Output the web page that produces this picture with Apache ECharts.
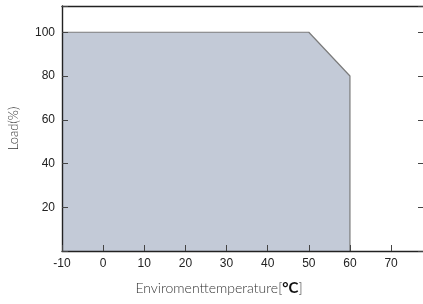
<!DOCTYPE html>
<html>
<head>
<meta charset="utf-8">
<script src="https://cdn.jsdelivr.net/npm/echarts@6/dist/echarts.min.js"></script>
<style>
html, body { margin: 0; padding: 0; background: #fff; }
#chart { width: 423px; height: 304px; }
</style>
</head>
<body>
<div id="chart"></div>
<script>
// derating curve: temperature (°C) vs load (%)
var temps = [-10, 50, 60, 60];
var loads = [100, 100, 80, 0];
var xTicks = [-10, 0, 10, 20, 30, 40, 50, 60, 70];
var yTicks = [20, 40, 60, 80, 100];

var points = [];
for (var i = 0; i < temps.length; i++) {
    points.push([temps[i], loads[i]]);
}

var chart = echarts.init(document.getElementById('chart'));
var axisDark = '#222';
var option = {
    animation: false,
    grid: { left: 62, top: 6, width: 362, height: 245, outerBoundsMode: 'none' },
    xAxis: [
        {
            type: 'value',
            z: 5,
            min: -10,
            max: 78,
            interval: 10,
            splitLine: { show: false },
            axisLine: { onZero: false, lineStyle: { color: axisDark, width: 1.4 } },
            axisTick: { inside: true, length: 6, lineStyle: { color: '#444' } },
            axisLabel: {
                color: '#222',
                fontFamily: 'Liberation Sans',
                fontSize: 12,
                margin: 7,
                showMaxLabel: false,
                formatter: function (v) { return xTicks.indexOf(v) >= 0 ? String(v) : ''; }
            },
            name: 'Enviromenttemperature[{b|°C}]',
            nameLocation: 'middle',
            nameGap: 30,
            nameTextStyle: {
                color: '#333',
                fontFamily: 'Lato',
                fontWeight: 300,
                fontSize: 14,
                padding: [0, 48, 0, 0],
                rich: { b: { fontWeight: 'bold', fontFamily: 'Lato', fontSize: 15, color: '#111' } }
            }
        },
        {
            type: 'value',
            z: 5,
            position: 'top',
            min: -10,
            max: 78,
            interval: 10,
            splitLine: { show: false },
            axisLine: { onZero: false, lineStyle: { color: axisDark, width: 1.4 } },
            axisTick: { show: false },
            axisLabel: { show: false }
        }
    ],
    yAxis: [
        {
            type: 'value',
            z: 5,
            min: 0,
            max: 112,
            interval: 20,
            splitLine: { show: false },
            axisLine: { show: true, onZero: false, lineStyle: { color: axisDark, width: 1.4 } },
            axisTick: { inside: true, length: 6, lineStyle: { color: '#444' } },
            axisLabel: {
                color: '#222',
                fontFamily: 'Liberation Sans',
                fontSize: 12,
                margin: 7,
                formatter: function (v) { return yTicks.indexOf(v) >= 0 ? String(v) : ''; }
            },
            name: 'Load(%)',
            nameLocation: 'middle',
            nameGap: 42,
            nameTextStyle: { color: '#333', fontFamily: 'Lato', fontWeight: 300, fontSize: 13 }
        },
        {
            type: 'value',
            z: 5,
            position: 'right',
            min: 0,
            max: 112,
            interval: 20,
            splitLine: { show: false },
            axisLine: { show: false, onZero: false },
            axisTick: { show: true, inside: true, length: 6, lineStyle: { color: '#444' } },
            axisLabel: { show: false }
        }
    ],
    series: [
        {
            type: 'line',
            data: points,
            symbol: 'none',
            lineStyle: { color: '#7b7b7b', width: 1.2 },
            areaStyle: { color: '#c3cad7', opacity: 1 }
        }
    ]
};
chart.setOption(option);
</script>
</body>
</html>
